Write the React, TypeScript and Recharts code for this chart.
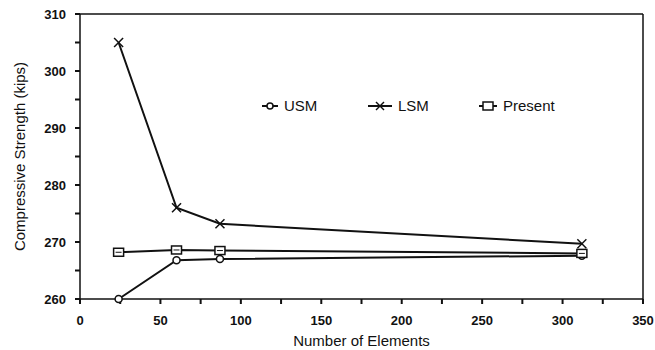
import {
  LineChart,
  Line,
  XAxis,
  YAxis,
  ReferenceLine,
} from 'recharts';

const elements = [24, 60, 87, 312];
const usm = [260.0, 266.8, 267.0, 267.6];
const lsm = [305.0, 276.0, 273.2, 269.7];
const present = [268.2, 268.6, 268.5, 268.0];

const xTicks = [0, 25, 50, 75, 100, 125, 150, 175, 200, 225, 250, 275, 300, 325, 350];
const yTicks = [260, 265, 270, 275, 280, 285, 290, 295, 300, 305, 310];

const data = elements.map((n, i) => ({
  n,
  usm: usm[i],
  lsm: lsm[i],
  present: present[i],
}));

const font = 'Arial, "Liberation Sans", sans-serif';
const ink = '#111';
const tickStyle = { stroke: ink, strokeWidth: 2 };

function CircleDot(props: any) {
  const { cx, cy } = props;
  if (cx == null || cy == null) return null;
  return <circle cx={cx} cy={cy} r={3.5} fill="#fff" stroke={ink} strokeWidth={1.5} />;
}

function CrossDot(props: any) {
  const { cx, cy } = props;
  if (cx == null || cy == null) return null;
  const s = 4.5;
  return (
    <g stroke={ink} strokeWidth={1.5}>
      <line x1={cx - s} y1={cy - s} x2={cx + s} y2={cy + s} />
      <line x1={cx - s} y1={cy + s} x2={cx + s} y2={cy - s} />
    </g>
  );
}

function SquareDot(props: any) {
  const { cx, cy } = props;
  if (cx == null || cy == null) return null;
  return (
    <g>
      <rect x={cx - 5} y={cy - 4} width={10} height={8} fill="#fff" stroke={ink} strokeWidth={1.5} />
      <line x1={cx - 3} y1={cy} x2={cx + 3} y2={cy} stroke={ink} strokeWidth={1} />
    </g>
  );
}

function XTick(props: any) {
  const { x, y, payload } = props;
  if (payload.value % 50 !== 0) return <g />;
  return (
    <text x={x} y={y + 21} textAnchor="middle" fontFamily={font} fontSize={13} fontWeight="bold" fill={ink}>
      {payload.value}
    </text>
  );
}

function YTick(props: any) {
  const { x, y, payload } = props;
  if (payload.value % 10 !== 0) return <g />;
  return (
    <text x={x - 9} y={y + 5} textAnchor="end" fontFamily={font} fontSize={13} fontWeight="bold" fill={ink}>
      {payload.value}
    </text>
  );
}

function LegendItem({ left, width, label, children }: any) {
  return (
    <div style={{ position: 'absolute', left, top: 0, display: 'flex', alignItems: 'center' }}>
      <svg width={width} height={12} style={{ marginRight: 6 }}>
        <line x1={0} y1={6} x2={width} y2={6} stroke={ink} strokeWidth={2} />
        {children}
      </svg>
      <span>{label}</span>
    </div>
  );
}

function LegendBox() {
  return (
    <div
      style={{
        position: 'absolute',
        left: 0,
        top: 97,
        width: 655,
        fontFamily: font,
        fontSize: 15,
        color: ink,
      }}
    >
      <LegendItem left={262} width={16} label="USM">
        <circle cx={8} cy={6} r={3} fill="#fff" stroke={ink} strokeWidth={1.5} />
      </LegendItem>
      <LegendItem left={368} width={24} label="LSM">
        <g stroke={ink} strokeWidth={1.5}>
          <line x1={8} y1={2} x2={16} y2={10} />
          <line x1={8} y1={10} x2={16} y2={2} />
        </g>
      </LegendItem>
      <LegendItem left={479} width={18} label="Present">
        <rect x={4} y={2} width={10} height={8} fill="#fff" stroke={ink} strokeWidth={1.5} />
      </LegendItem>
    </div>
  );
}

export default function App() {
  return (
    <div style={{ position: 'fixed', left: 0, top: 0, width: 655, height: 350, background: '#fff' }}>
      <LineChart width={655} height={350} data={data} margin={{ top: 14, right: 12, bottom: 0, left: 30 }}>
        {/* inward half of each tick, drawn by mirrored axes without labels */}
        <XAxis
          xAxisId="in"
          dataKey="n"
          type="number"
          domain={[0, 350]}
          ticks={xTicks}
          interval={0}
          mirror
          tick={() => <g />}
          tickLine={tickStyle}
          tickSize={5}
          axisLine={false}
          height={0}
        />
        <XAxis
          dataKey="n"
          type="number"
          domain={[0, 350]}
          ticks={xTicks}
          interval={0}
          tick={<XTick />}
          tickSize={5}
          tickMargin={0}
          tickLine={tickStyle}
          axisLine={{ stroke: ink, strokeWidth: 1.5 }}
          height={51}
          label={{
            value: 'Number of Elements',
            position: 'insideBottom',
            offset: 4,
            style: { fontFamily: font, fontSize: 15, fill: ink },
          }}
        />
        <YAxis
          yAxisId="in"
          type="number"
          domain={[260, 310]}
          ticks={yTicks}
          interval={0}
          mirror
          tick={() => <g />}
          tickLine={tickStyle}
          tickSize={5}
          axisLine={false}
          width={0}
        />
        <YAxis
          type="number"
          domain={[260, 310]}
          ticks={yTicks}
          interval={0}
          tick={<YTick />}
          tickSize={5}
          tickMargin={0}
          tickLine={tickStyle}
          axisLine={{ stroke: ink, strokeWidth: 1.5 }}
          width={50}
          label={{
            value: 'Compressive Strength (kips)',
            angle: -90,
            position: 'left',
            offset: 10,
            style: { fontFamily: font, fontSize: 15, fill: ink, textAnchor: 'middle' },
          }}
        />
        <ReferenceLine y={310} stroke={ink} strokeWidth={1.5} />
        <ReferenceLine x={350} stroke={ink} strokeWidth={1.5} />
        <Line
          dataKey="usm"
          stroke={ink}
          strokeWidth={2}
          dot={<CircleDot />}
          activeDot={false}
          isAnimationActive={false}
        />
        <Line
          dataKey="lsm"
          stroke={ink}
          strokeWidth={2}
          dot={<CrossDot />}
          activeDot={false}
          isAnimationActive={false}
        />
        <Line
          dataKey="present"
          stroke={ink}
          strokeWidth={2}
          dot={<SquareDot />}
          activeDot={false}
          isAnimationActive={false}
        />
      </LineChart>
      <LegendBox />
    </div>
  );
}
